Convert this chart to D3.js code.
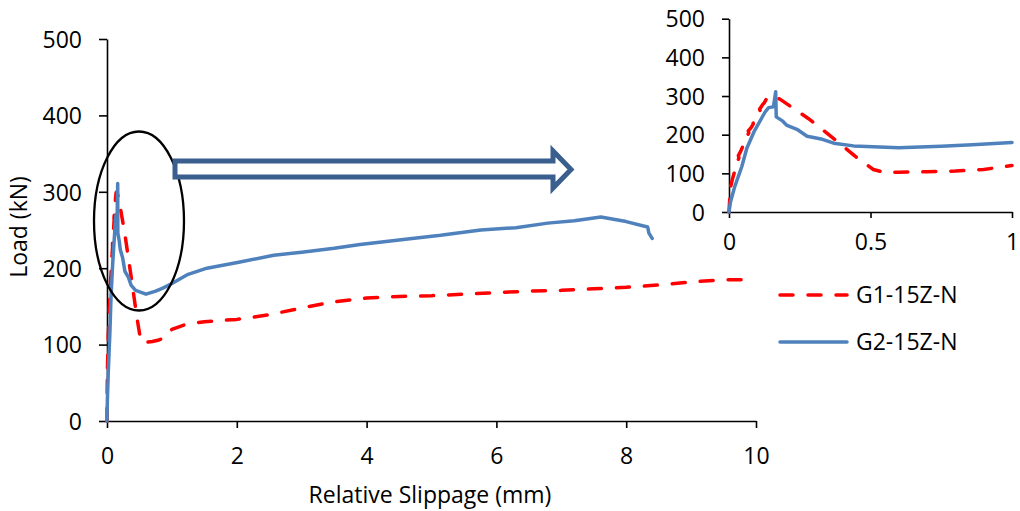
<!DOCTYPE html>
<html>
<head>
<meta charset="utf-8">
<script src="https://cdn.jsdelivr.net/npm/d3@7"></script>
<style>
  html, body { margin: 0; padding: 0; background: #fff; }
  svg text { font-family: "Open Sans", sans-serif; fill: #000; }
</style>
</head>
<body>
<svg id="chart" width="1020" height="511"></svg>
<script>
// ---- data ----
const seriesNames = ["G1-15Z-N", "G2-15Z-N"];
const g1Slip = [0, 0.003, 0.008, 0.006, 0.012, 0.02, 0.018, 0.027, 0.035, 0.033, 0.042, 0.05, 0.048, 0.06, 0.07, 0.068, 0.078, 0.086, 0.084, 0.095, 0.1, 0.11, 0.108, 0.118, 0.125, 0.132, 0.14, 0.15, 0.18, 0.28, 0.37, 0.46, 0.51, 0.55, 0.6, 0.7, 0.8, 0.9, 1.0, 1.2, 1.5, 2.0, 2.5, 3.0, 3.5, 4.0, 4.5, 5.0, 5.5, 6.0, 6.5, 7.0, 7.5, 8.0, 8.5, 9.0, 9.5, 10.0];
const g1Load = [0, 40, 68, 66, 85, 105, 110, 125, 140, 146, 158, 172, 176, 190, 205, 210, 218, 228, 234, 242, 248, 264, 266, 277, 283, 292, 299, 300, 292, 242, 190, 136, 110, 102, 103, 104, 106, 110, 120, 126, 130, 133, 139, 148, 156, 161, 163, 164, 166, 168, 170, 171, 173, 175, 178, 182, 185, 185];
const g2Slip = [0, 0.005, 0.02, 0.045, 0.063, 0.09, 0.127, 0.14, 0.157, 0.165, 0.167, 0.19, 0.205, 0.24, 0.276, 0.33, 0.37, 0.44, 0.6, 0.75, 0.86, 1.0, 1.25, 1.54, 2.05, 2.57, 3.0, 3.5, 3.9, 4.5, 5.14, 5.76, 6.3, 6.79, 7.2, 7.61, 8.0, 8.33, 8.35, 8.4];
const g2Load = [0, 25, 65, 117, 165, 210, 258, 270, 272, 311, 246, 235, 224, 214, 196, 188, 178, 171, 166, 170, 174, 180, 192, 200, 208, 217, 221, 226, 231, 237, 243, 250, 253, 259, 262, 267, 261, 254, 246, 239];
const xTicksMain = [0, 2, 4, 6, 8, 10];
const yTicks = [0, 100, 200, 300, 400, 500];
const xTicksInset = [0, 0.5, 1];
const xTitle = "Relative Slippage (mm)";
const yTitle = "Load (kN)";

const seriesData = [
  { name: seriesNames[0], pts: g1Slip.map((x, i) => ({ x, y: g1Load[i] })), color: "#FF0000", dash: "13,15" },
  { name: seriesNames[1], pts: g2Slip.map((x, i) => ({ x, y: g2Load[i] })), color: "#4F81BD", dash: null }
];

const svg = d3.select("#chart");
const FS = 23;

// ---- main chart ----
const x = d3.scaleLinear().domain([0, 10]).range([107, 756]);
const y = d3.scaleLinear().domain([0, 500]).range([421, 39]);

const gx = svg.append("g").attr("transform", "translate(0,421)")
  .call(d3.axisBottom(x).tickValues(xTicksMain).tickFormat(d3.format("d")).tickSize(7).tickSizeOuter(0));
const gy = svg.append("g").attr("transform", "translate(107,0)")
  .call(d3.axisLeft(y).tickValues(yTicks).tickSize(8).tickSizeOuter(0));
[gx, gy].forEach(g => {
  g.selectAll("path, line").attr("stroke", "#000").attr("stroke-width", 1.6);
  g.selectAll("text").style("font-size", FS + "px").attr("fill", "#000");
});
gx.selectAll("text").attr("dy", null).attr("y", 43);
gy.selectAll("text").attr("x", -25).attr("dy", "0.36em");

svg.append("text").attr("x", 430).attr("y", 503).attr("text-anchor", "middle")
  .style("font-size", FS + "px").text(xTitle);
svg.append("text").attr("transform", "translate(27,227) rotate(-90)").attr("text-anchor", "middle")
  .style("font-size", FS + "px").text(yTitle);

const line = d3.line().x(d => x(d.x)).y(d => y(d.y));
seriesData.forEach(s => {
  svg.append("path").datum(s.pts).attr("d", line)
    .attr("fill", "none").attr("stroke", s.color).attr("stroke-width", 3.5)
    .attr("stroke-linejoin", "round").attr("stroke-linecap", "round")
    .attr("stroke-dasharray", s.dash);
});

// ---- inset ----
const xi = d3.scaleLinear().domain([0, 1]).range([729, 1012]);
const yi = d3.scaleLinear().domain([0, 500]).range([212, 18.7]);
svg.append("clipPath").attr("id", "insetClip").append("rect")
  .attr("x", 726).attr("y", 0).attr("width", 1012 - 726 + 2).attr("height", 216);

const gxi = svg.append("g").attr("transform", "translate(0,212)")
  .call(d3.axisBottom(xi).tickValues(xTicksInset).tickFormat(d => d === 0.5 ? "0.5" : d3.format("d")(d)).tickSize(6).tickSizeOuter(0));
const gyi = svg.append("g").attr("transform", "translate(729,0)")
  .call(d3.axisLeft(yi).tickValues(yTicks).tickSize(7).tickSizeOuter(0));
[gxi, gyi].forEach(g => {
  g.selectAll("path, line").attr("stroke", "#000").attr("stroke-width", 1.6);
  g.selectAll("text").style("font-size", FS + "px").attr("fill", "#000");
});
gxi.selectAll("text").attr("dy", null).attr("y", 38);
gyi.selectAll("text").attr("x", -24).attr("dy", "0.36em");

const linei = d3.line().x(d => xi(d.x)).y(d => yi(d.y));
seriesData.forEach(s => {
  svg.append("path").datum(s.pts.filter((d, i, a) => d.x <= 1.0 || (i > 0 && a[i - 1].x < 1.0)))
    .attr("d", linei).attr("clip-path", "url(#insetClip)")
    .attr("fill", "none").attr("stroke", s.color).attr("stroke-width", 3.5)
    .attr("stroke-linejoin", "round").attr("stroke-linecap", "round")
    .attr("stroke-dasharray", s.dash);
});

// ---- legend ----
const legend = svg.append("g");
seriesData.forEach((s, i) => {
  const ly = 295 + i * 47;
  legend.append("line").attr("x1", 780).attr("x2", 847).attr("y1", ly).attr("y2", ly)
    .attr("stroke", s.color).attr("stroke-width", 3.5).attr("stroke-linecap", "round")
    .attr("stroke-dasharray", s.dash);
  legend.append("text").attr("x", 856).attr("y", ly).attr("dy", "0.36em")
    .style("font-size", FS + "px").text(s.name);
});

// ---- annotations: ellipse and block arrow ----
svg.append("ellipse").attr("cx", 139).attr("cy", 221).attr("rx", 45).attr("ry", 89.5)
  .attr("fill", "none").attr("stroke", "#000").attr("stroke-width", 2.3);

const arrowPts = [[175, 161], [553, 161], [553, 151], [571, 169.5], [553, 188], [553, 177], [175, 177]];
svg.append("polygon").attr("points", arrowPts.map(p => p.join(",")).join(" "))
  .attr("fill", "#fff").attr("stroke", "#3A5F8F").attr("stroke-width", 5).attr("stroke-linejoin", "miter");
</script>
</body>
</html>
